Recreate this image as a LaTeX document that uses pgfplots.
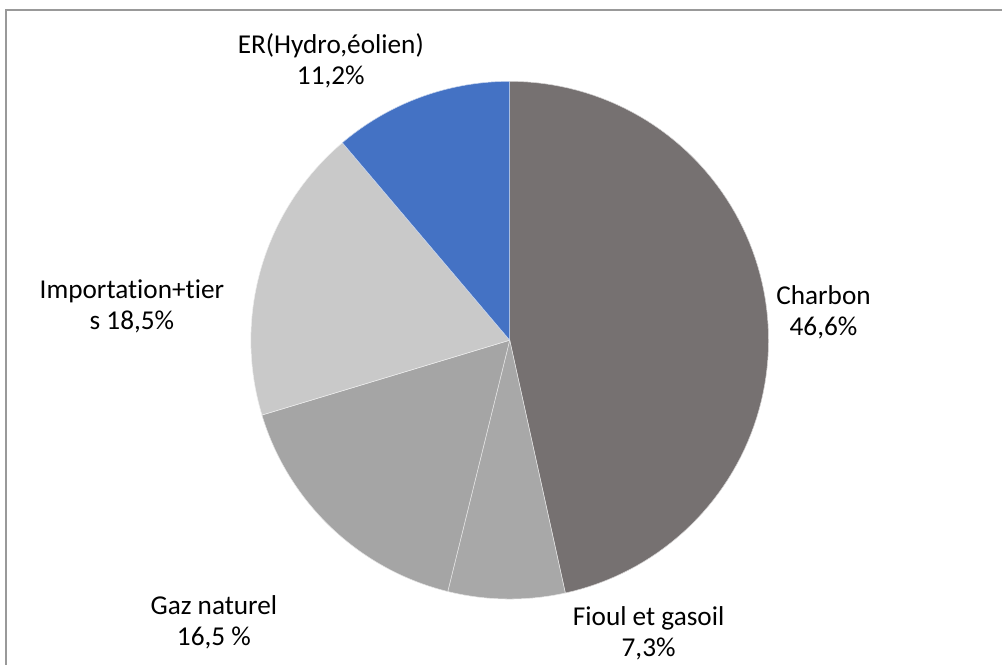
\documentclass[border=0pt]{standalone}
\usepackage{pgfplots}
\pgfplotsset{compat=1.18}
\usepackage{fontspec}
\setmainfont{Carlito}[Ligatures=NoCommon]
\definecolor{cCharbon}{HTML}{767171}
\definecolor{cFioul}{HTML}{A8A8A8}
\definecolor{cGaz}{HTML}{A5A5A5}
\definecolor{cImport}{HTML}{C9C9C9}
\definecolor{cER}{HTML}{4472C4}
\definecolor{cBorder}{HTML}{999999}
% values (percent)
\def\vCharbon{46.6}
\def\vFioul{7.3}
\def\vGaz{16.5}
\def\vImport{18.5}
\def\vER{11.2}
\pgfmathsetmacro{\total}{\vCharbon+\vFioul+\vGaz+\vImport+\vER}
\pgfmathsetmacro{\fac}{360/\total}
\pgfmathsetmacro{\aA}{90}
\pgfmathsetmacro{\aB}{\aA-\fac*\vCharbon}
\pgfmathsetmacro{\aC}{\aB-\fac*\vFioul}
\pgfmathsetmacro{\aD}{\aC-\fac*\vGaz}
\pgfmathsetmacro{\aE}{\aD-\fac*\vImport}
\pgfmathsetmacro{\aF}{\aE-\fac*\vER}
\newcommand{\slice}[3]{%
  \addplot[fill=#3, draw=white!70!#3, line width=0.15pt, domain=#1:#2, samples=90, variable=\t]
    ({510+259*cos(\t)},{324+259*sin(\t)}) -- (axis cs:510,324) -- cycle;
}
\tikzset{lbl/.style={font=\fontsize{7.75}{8.8}\selectfont, align=center, text=black, inner sep=0pt}}
\begin{document}
\begin{tikzpicture}
\useasboundingbox (0,0) rectangle (10.02cm,6.64cm);
\clip (0,0) rectangle (10.02cm,6.64cm);
\begin{axis}[
  at={(0,0)}, anchor=south west,
  x=0.01cm, y=0.01cm, scale only axis,
  xmin=0, xmax=1002, ymin=0, ymax=664,
  hide axis, clip=false,
]
\slice{\aA}{\aB}{cCharbon}
\slice{\aB}{\aC}{cFioul}
\slice{\aC}{\aD}{cGaz}
\slice{\aD}{\aE}{cImport}
\slice{\aE}{\aF}{cER}
\draw[cBorder, line width=0.6pt] (axis cs:6,-5) -- (axis cs:6,654) -- (axis cs:1010,654);
\node[lbl] at (axis cs:331,604) {ER(Hydro,éolien)\\11,2\%};
\node[lbl] at (axis cs:824,352) {Charbon\\46,6\%};
\node[lbl] at (axis cs:132,358) {Importation+tier\\s 18,5\%};
\node[lbl] at (axis cs:214,42) {Gaz naturel\\16,5 \%};
\node[lbl] at (axis cs:649,31) {Fioul et gasoil\\7,3\%};
\end{axis}
\end{tikzpicture}
\end{document}
